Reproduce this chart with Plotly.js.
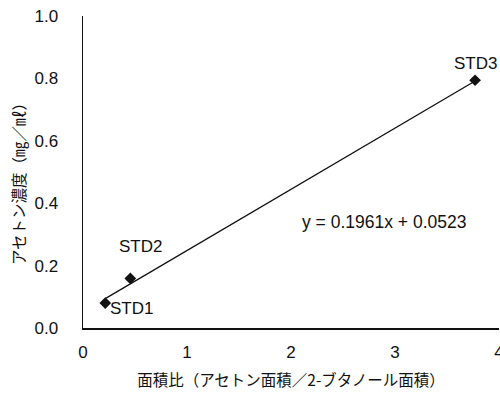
<!DOCTYPE html>
<html>
<head>
<meta charset="utf-8">
<script src="https://cdn.plot.ly/plotly-3.0.1.min.js"></script>
<style>html,body{margin:0;padding:0;background:#fff;}#chart{width:500px;height:395px;}</style>
</head>
<body>
<div id="chart"></div>
<script>
// Data
const labels = ["STD1", "STD2", "STD3"];
const areaRatio = [0.214, 0.455, 3.77];
const concentration = [0.080, 0.159, 0.794];
// Trendline coefficients as printed on the chart
const slope = 0.1961;
const intercept = 0.0523;
const xTicks = [0, 1, 2, 3, 4];
const yTicks = [0, 0.2, 0.4, 0.6, 0.8, 1.0];

const xMin = Math.min(...areaRatio), xMax = Math.max(...areaRatio);
const fitX = [xMin, xMax];
const fitY = fitX.map(v => slope * v + intercept);

const latin = "Liberation Sans, Arial, sans-serif";
const cjk = "Noto Sans CJK JP, sans-serif";

const traces = [
  {x: fitX, y: fitY, mode: "lines", line: {color: "#111", width: 1.3}, hoverinfo: "skip"},
  {x: areaRatio, y: concentration, mode: "markers", marker: {symbol: "diamond", size: 9, color: "#111"}}
];

const offsets = [[26, -5], [10, 32], [0, 17]];
const annotations = labels.map((t, i) => ({
  x: areaRatio[i], y: concentration[i], xref: "x", yref: "y", text: t, showarrow: false,
  xanchor: "center", yanchor: "middle",
  xshift: offsets[i][0], yshift: offsets[i][1], font: {family: latin, size: 17, color: "#111"}
}));
annotations.push({
  x: 2.894, y: 0.34, xref: "x", yref: "y", showarrow: false, xanchor: "center", yanchor: "middle",
  text: "y = " + slope.toFixed(4) + "x + " + intercept.toFixed(4),
  font: {family: latin, size: 17.5, color: "#111"}
});
annotations.push({
  x: -65/416, y: 0.474, xref: "paper", yref: "paper", showarrow: false, textangle: -90,
  xanchor: "center", yanchor: "middle",
  text: "アセトン濃度（㎎／㎖）", font: {family: cjk, size: 15.5, color: "#111"}
});

const layout = {
  width: 500, height: 395,
  margin: {l: 83, r: 1, t: 16, b: 67},
  paper_bgcolor: "#fff", plot_bgcolor: "#fff",
  showlegend: false,
  xaxis: {
    range: [0, 4], tickvals: xTicks, ticktext: xTicks.map(String),
    showgrid: false, zeroline: false, showline: true, linecolor: "#111", linewidth: 1.5,
    ticks: "", ticklabelstandoff: 8, ticklabeloverflow: "allow",
    tickfont: {family: latin, size: 17, color: "#111"},
    title: {text: "面積比（アセトン面積／2-ブタノール面積）", font: {family: cjk, size: 15.5, color: "#111"}, standoff: 14}
  },
  yaxis: {
    range: [0, 1], tickvals: yTicks, ticktext: yTicks.map(v => v.toFixed(1)),
    showgrid: false, zeroline: false, showline: true, linecolor: "#111", linewidth: 1.5,
    ticks: "", ticklabelstandoff: 20, ticklabeloverflow: "allow",
    tickfont: {family: latin, size: 17, color: "#111"}
  },
  annotations: annotations
};

Plotly.newPlot("chart", traces, layout, {staticPlot: true, displayModeBar: false});
</script>
</body>
</html>
